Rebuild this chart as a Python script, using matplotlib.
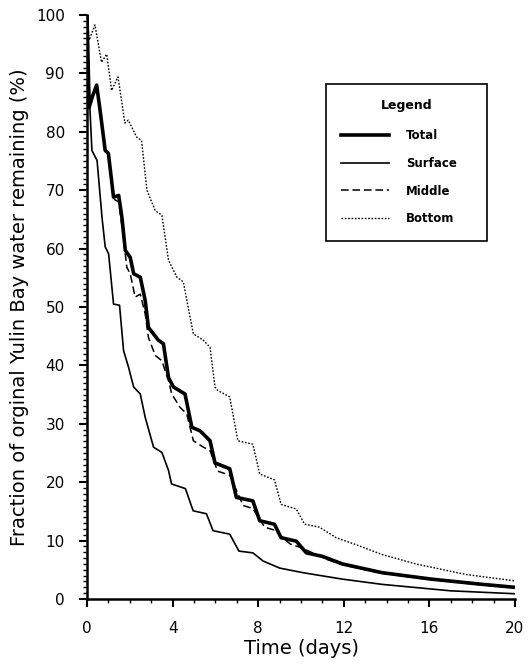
import matplotlib
matplotlib.use("Agg")
import matplotlib.pyplot as plt
from matplotlib.ticker import MultipleLocator

# ---- data ----
t_total = [0, 0.05, 0.1, 0.25, 0.45, 0.6, 0.85, 1.0, 1.24, 1.48, 1.63, 1.79, 2.02, 2.18,
           2.49, 2.72, 2.87, 3.34, 3.57, 3.81, 4.04, 4.58, 4.9, 5.28, 5.75, 5.98, 6.67,
           6.98, 7.75, 8.07, 8.76, 9.07, 9.78, 10.25, 11.0, 11.94, 13.8, 16.1, 18.5, 20]
v_total = [100, 92, 84.2, 86, 88, 84, 76.8, 76.3, 68.8, 69.1, 65.4, 59.7, 58.5, 55.7,
           55.1, 51.1, 46.5, 44.3, 43.7, 37.9, 36.3, 35.1, 29.4, 28.8, 27.1, 23.3, 22.3,
           17.4, 16.8, 13.4, 12.8, 10.5, 9.9, 7.9, 7.3, 6.0, 4.5, 3.4, 2.5, 2.0]

t_surface = [0, 0.1, 0.14, 0.23, 0.47, 0.70, 0.85, 1.01, 1.24, 1.52, 1.71, 1.94, 2.18,
             2.49, 2.72, 3.11, 3.5, 3.81, 3.95, 4.6, 4.96, 5.58, 5.89, 6.67, 7.1, 7.75,
             8.23, 9.0, 10.1, 11.94, 13.8, 17.0, 20]
v_surface = [100, 88, 83.7, 76.8, 75.1, 65.4, 60.3, 59.1, 50.5, 50.3, 42.5, 39.7, 36.3,
             35.1, 31.1, 26.0, 25.1, 22.0, 19.7, 18.9, 15.1, 14.6, 11.7, 11.1, 8.2, 7.9,
             6.5, 5.3, 4.5, 3.4, 2.5, 1.4, 0.9]

t_middle = [0, 0.1, 0.25, 0.45, 0.6, 0.85, 1.0, 1.24, 1.48, 1.7, 1.86, 2.02, 2.25, 2.49,
            2.72, 2.87, 3.19, 3.5, 3.81, 3.96, 4.35, 4.66, 4.97, 5.44, 5.75, 6.1, 6.67,
            7.3, 7.75, 8.3, 8.76, 9.5, 10.0, 11.2, 12, 13.8, 16.1, 18.5, 20]
v_middle = [100, 85, 86, 87.5, 84, 76.5, 76, 68.5, 68, 62, 56.8, 55.7, 51.7, 52.2,
            48.8, 44.8, 41.7, 40.8, 37.4, 35.1, 32.8, 31.7, 27.1, 26.0, 25.4, 21.9, 21.2,
            16.0, 15.5, 12.3, 11.8, 9.4, 8.8, 6.8, 5.8, 4.4, 3.3, 2.4, 1.9]

t_bottom = [0, 0.1, 0.37, 0.68, 0.92, 1.15, 1.45, 1.77, 1.93, 2.32, 2.55, 2.80, 3.19,
            3.5, 3.81, 4.2, 4.5, 4.82, 4.97, 5.44, 5.75, 5.98, 6.11, 6.67, 7.05, 7.75,
            8.07, 8.76, 9.07, 9.78, 10.17, 10.86, 11.64, 12.57, 13.8, 15.37, 17.7, 20]
v_bottom = [100, 95.7, 98.3, 91.9, 93.3, 87.1, 89.4, 81.5, 82, 79.1, 78.5, 70, 66.5,
            65.7, 58, 55.1, 54.3, 48.2, 45.4, 44.3, 43.1, 36.3, 35.7, 34.6, 27.1, 26.5,
            21.4, 20.4, 16.2, 15.4, 12.8, 12.3, 10.5, 9.3, 7.6, 6.0, 4.2, 3.1]

series_labels = ["Total", "Surface", "Middle", "Bottom"]
x_ticks = [0, 4, 8, 12, 16, 20]
y_ticks = [0, 10, 20, 30, 40, 50, 60, 70, 80, 90, 100]

# ---- figure ----
fig = plt.figure(figsize=(5.31, 6.64), dpi=100)
ax = fig.add_axes([87/531, 1 - 599/664, (515 - 87)/531, (599 - 15)/664])

l_tot, = ax.plot(t_total, v_total, color="black", lw=2.6, solid_joinstyle="round")
l_sur, = ax.plot(t_surface, v_surface, color="black", lw=1.2)
l_mid, = ax.plot(t_middle, v_middle, color="black", lw=1.1, linestyle=(0, (5, 2.5)))
l_bot, = ax.plot(t_bottom, v_bottom, color="black", lw=1.0, linestyle=(0, (1.2, 1.2)))

ax.set_xlim(0, 20)
ax.set_ylim(0, 100)
ax.set_xticks(x_ticks)
ax.set_yticks(y_ticks)
ax.xaxis.set_minor_locator(MultipleLocator(1))
ax.yaxis.set_minor_locator(MultipleLocator(1))

for s in ["top", "right"]:
    ax.spines[s].set_visible(False)
for s in ["left", "bottom"]:
    ax.spines[s].set_linewidth(1.8)

ax.tick_params(which="major", direction="out", length=6, width=1.5, labelsize=11)
ax.tick_params(axis="y", which="major", pad=10)
ax.tick_params(axis="x", which="major", pad=10)
ax.tick_params(which="minor", direction="out", length=3, width=1.0)

ax.set_xlabel("Time (days)", fontsize=14, labelpad=2)
ax.set_ylabel("Fraction of orginal Yulin Bay water remaining (%)", fontsize=14, labelpad=5)

leg = ax.legend([l_tot, l_sur, l_mid, l_bot], series_labels,
                title="Legend", loc="upper left",
                bbox_to_anchor=(326/531, 1 - 84/664, 161/531, 0.0),
                bbox_transform=fig.transFigure, mode="expand",
                frameon=True, fancybox=False, framealpha=1, edgecolor="black",
                prop={"size": 8.5, "weight": "bold"}, handlelength=4.0,
                labelspacing=1.25, borderpad=1.3, handletextpad=1.5, borderaxespad=0)
leg.get_title().set_fontweight("bold")
leg.get_title().set_fontsize(9)
leg._legend_box.sep = 12
leg.get_frame().set_linewidth(1.2)

fig.savefig("out.png", dpi=100)
